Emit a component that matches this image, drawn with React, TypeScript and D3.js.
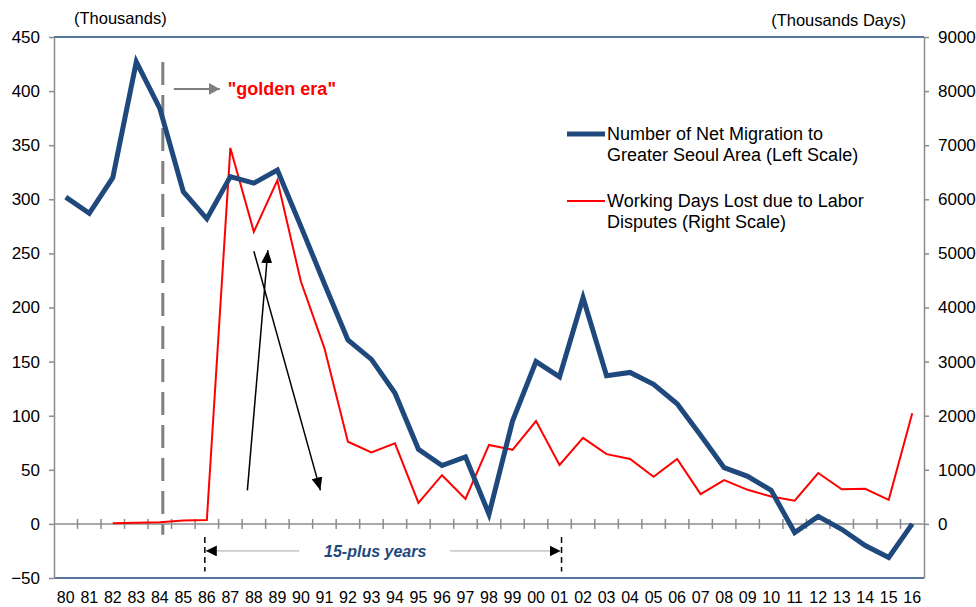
import React, { useRef, useEffect } from 'react';
import * as d3 from 'd3';

const years = ['80', '81', '82', '83', '84', '85', '86', '87', '88', '89',
  '90', '91', '92', '93', '94', '95', '96', '97', '98', '99',
  '00', '01', '02', '03', '04', '05', '06', '07', '08', '09',
  '10', '11', '12', '13', '14', '15', '16'];

// net migration to Greater Seoul Area, thousands (left scale)
const migration = [302, 287, 320, 427, 384, 307, 282, 321, 315, 327,
  275, 222, 170, 152, 121, 69, 54, 62, 9, 95,
  150, 136, 209, 137, 140, 129, 111, 82, 52, 44,
  31, -8, 7, -5, -20, -31, 0];

// working days lost due to labor disputes, thousands of days (right scale)
const daysLost = [null, null, 12, 20, 30, 65, 72, 6950, 5400, 6350,
  4480, 3250, 1520, 1320, 1490, 390, 900, 460, 1460, 1370,
  1900, 1090, 1590, 1290, 1200, 870, 1200, 550, 810, 630,
  505, 430, 940, 640, 650, 445, 2045];

const leftTicks = [-50, 0, 50, 100, 150, 200, 250, 300, 350, 400, 450];
const rightTicks = [0, 1000, 2000, 3000, 4000, 5000, 6000, 7000, 8000, 9000];

const W = 976;
const H = 607;
const FONT = '"Liberation Sans", Arial, sans-serif';
const BLUE = '#1F497D';
const RED = '#FF0000';
const GRAY = '#8C8C8C';

const App = () => {
  const svgRef = useRef(null);

  useEffect(() => {
    const svg = d3.select(svgRef.current);
    svg.selectAll('*').remove();

    const left = 54, right = 924, top = 37, bottom = 578;
    const x = d3.scaleBand().domain(years).range([left, right]);
    const xc = (d) => x(d) + x.bandwidth() / 2;
    const yL = d3.scaleLinear().domain([-50, 450]).range([bottom, top]);
    const yR = d3.scaleLinear().domain([-1000, 9000]).range([bottom, top]);

    const defs = svg.append('defs');
    const marker = (id, color, w, h) => defs.append('marker')
      .attr('id', id).attr('viewBox', '0 0 10 10').attr('refX', 10).attr('refY', 5)
      .attr('preserveAspectRatio', 'none')
      .attr('markerUnits', 'userSpaceOnUse').attr('markerWidth', w).attr('markerHeight', h)
      .attr('orient', 'auto')
      .append('path').attr('d', 'M0,0L10,5L0,10Z').attr('fill', color);
    marker('head-black', '#000', 13, 11);
    marker('head-bracket', '#000', 11, 11);
    marker('head-gray', '#7F7F7F', 11, 12);

    // frame
    svg.append('line').attr('x1', left).attr('x2', right).attr('y1', top).attr('y2', top)
      .attr('stroke', BLUE).attr('stroke-width', 1.5);
    svg.append('line').attr('x1', left).attr('x2', right).attr('y1', bottom).attr('y2', bottom)
      .attr('stroke', BLUE).attr('stroke-width', 1.5);

    // left axis
    const gL = svg.append('g').attr('transform', `translate(${left},0)`)
      .call(d3.axisLeft(yL).tickValues(leftTicks).tickSize(5).tickSizeOuter(0).tickPadding(9)
        .tickFormat(d3.format('d')));
    // right axis
    const gR = svg.append('g').attr('transform', `translate(${right},0)`)
      .call(d3.axisRight(yR).tickValues(rightTicks).tickSize(5).tickSizeOuter(0).tickPadding(9)
        .tickFormat(d3.format('d')));
    [gL, gR].forEach(g => {
      g.select('.domain').attr('stroke', GRAY).attr('stroke-width', 1.5);
      g.selectAll('.tick line').attr('stroke', GRAY).attr('stroke-width', 1.5);
      g.selectAll('.tick text').attr('font-family', FONT).attr('font-size', 17).attr('fill', '#000');
    });

    // category labels
    const gX = svg.append('g').attr('transform', `translate(0,${bottom})`)
      .call(d3.axisBottom(x).tickSize(0).tickPadding(14));
    gX.select('.domain').remove();
    gX.selectAll('.tick text').attr('font-family', FONT).attr('font-size', 16).attr('fill', '#000');

    // zero line with crossing ticks
    svg.append('line').attr('x1', left).attr('x2', right).attr('y1', yL(0)).attr('y2', yL(0))
      .attr('stroke', GRAY).attr('stroke-width', 1.5);
    svg.append('g').selectAll('line').data(years.slice(1)).join('line')
      .attr('x1', d => x(d)).attr('x2', d => x(d))
      .attr('y1', yL(0) - 5).attr('y2', yL(0) + 5)
      .attr('stroke', GRAY).attr('stroke-width', 1.5);

    // axis titles
    svg.append('text').attr('x', 74).attr('y', 24).text('(Thousands)')
      .attr('font-family', FONT).attr('font-size', 16.5);
    svg.append('text').attr('x', 906).attr('y', 26).attr('text-anchor', 'end').text('(Thousands Days)')
      .attr('font-family', FONT).attr('font-size', 16.5);

    // "golden era" marker
    svg.append('line').attr('x1', xc('84') + 3).attr('x2', xc('84') + 3)
      .attr('y1', yL(427)).attr('y2', yL(-10))
      .attr('stroke', '#7F7F7F').attr('stroke-width', 3).attr('stroke-dasharray', '23,10');
    svg.append('line').attr('x1', xc('84') + 14).attr('x2', xc('86') + 13)
      .attr('y1', yL(402)).attr('y2', yL(402))
      .attr('stroke', '#7F7F7F').attr('stroke-width', 2).attr('marker-end', 'url(#head-gray)');
    svg.append('text').attr('x', xc('86') + 21).attr('y', yL(402) + 6).text('"golden era"')
      .attr('font-family', FONT).attr('font-size', 18).attr('font-weight', 'bold').attr('fill', RED);

    // 15-plus years bracket
    const yB = yL(-25);
    [xc('86') - 2, xc('01') + 2].forEach(bx => {
      svg.append('line').attr('x1', bx).attr('x2', bx).attr('y1', yL(-12)).attr('y2', yL(-44))
        .attr('stroke', '#000').attr('stroke-width', 1.5).attr('stroke-dasharray', '6,4');
    });
    const midX = (xc('86') + xc('01')) / 2 - 8;
    svg.append('line').attr('x1', midX - 76).attr('x2', xc('86') - 1).attr('y1', yB).attr('y2', yB)
      .attr('stroke', '#A6A6A6').attr('stroke-width', 1).attr('marker-end', 'url(#head-bracket)');
    svg.append('line').attr('x1', midX + 75).attr('x2', xc('01') + 1).attr('y1', yB).attr('y2', yB)
      .attr('stroke', '#A6A6A6').attr('stroke-width', 1).attr('marker-end', 'url(#head-bracket)');
    svg.append('text').attr('x', midX).attr('y', yB + 6).attr('text-anchor', 'middle').text('15-plus years')
      .attr('font-family', FONT).attr('font-size', 16).attr('font-weight', 'bold')
      .attr('font-style', 'italic').attr('fill', BLUE);

    // series
    const lineL = d3.line().x((d, i) => xc(years[i])).y(d => yL(d));
    const lineR = d3.line().defined(d => d != null).x((d, i) => xc(years[i])).y(d => yR(d));
    svg.append('path').datum(daysLost).attr('d', lineR)
      .attr('fill', 'none').attr('stroke', RED).attr('stroke-width', 2).attr('stroke-linejoin', 'miter');
    svg.append('path').datum(migration).attr('d', lineL)
      .attr('fill', 'none').attr('stroke', BLUE).attr('stroke-width', 5).attr('stroke-linejoin', 'miter');

    // black arrows
    svg.append('line').attr('x1', xc('88') - 6.5).attr('y1', yL(31))
      .attr('x2', xc('88') + 14).attr('y2', yL(253))
      .attr('stroke', '#000').attr('stroke-width', 1.5).attr('marker-end', 'url(#head-black)');
    svg.append('line').attr('x1', xc('88')).attr('y1', yL(252))
      .attr('x2', xc('91') - 4).attr('y2', yL(31))
      .attr('stroke', '#000').attr('stroke-width', 1.5).attr('marker-end', 'url(#head-black)');

    // legend
    const legend = [
      { color: BLUE, width: 5, y: 134, lines: ['Number of Net Migration to', 'Greater Seoul Area (Left Scale)'] },
      { color: RED, width: 2, y: 201, lines: ['Working Days Lost due to Labor', 'Disputes (Right Scale)'] },
    ];
    legend.forEach(l => {
      svg.append('line').attr('x1', 567).attr('x2', 605).attr('y1', l.y).attr('y2', l.y)
        .attr('stroke', l.color).attr('stroke-width', l.width);
      l.lines.forEach((t, i) => {
        svg.append('text').attr('x', 607).attr('y', l.y + 6 + i * 21).text(t)
          .attr('font-family', FONT).attr('font-size', 18).attr('fill', '#000');
      });
    });
  }, []);

  return (
    <svg ref={svgRef} width={W} height={H}
      style={{ position: 'absolute', left: 0, top: 0, background: '#fff' }} />
  );
};

export default App;
